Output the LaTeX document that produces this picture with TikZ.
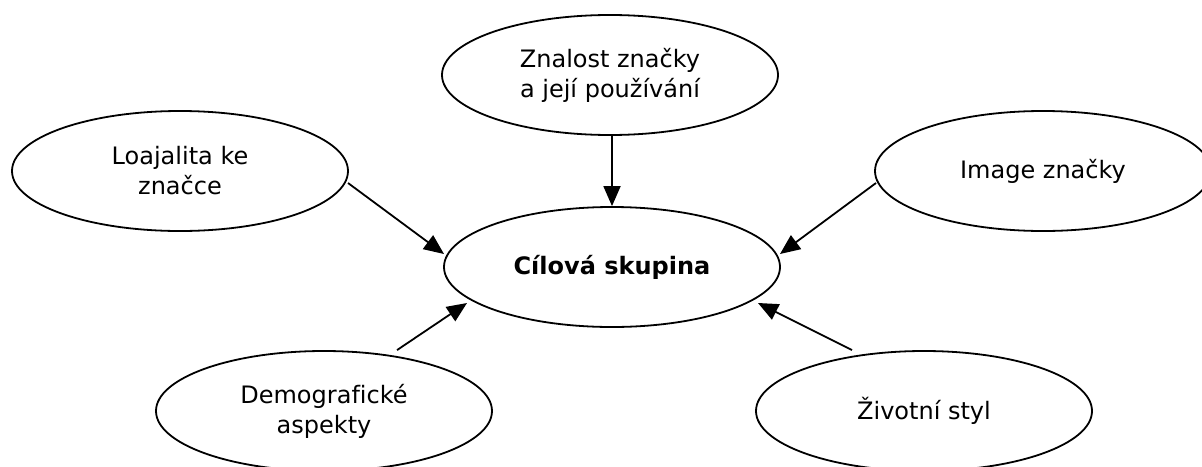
\documentclass[tikz,border=0pt]{standalone}
\usepackage{fontspec}
\setmainfont{DejaVu Sans}[Ligatures=NoCommon]
\usetikzlibrary{shapes.geometric,arrows.meta,calc}
\begin{document}
\begin{tikzpicture}[x=1pt,y=-1pt,
  oval/.style={draw=black,line width=1.8pt,ellipse,minimum width=336pt,minimum height=120pt,inner sep=0pt,align=center,font=\fontsize{24}{30}\selectfont},
  arr/.style={line width=1.8pt,-{Triangle[length=20pt,width=17pt]}}]
\useasboundingbox (0,0) rectangle (1202,466);
\clip (0,0) rectangle (1202,466);
\node[oval] (top) at (610,75) {Znalost značky\\a její používání};
\node[oval] (lft) at (180,171) {Loajalita ke\\značce};
\node[oval] (rgt) at (1043,171) {Image značky};
\node[oval,font=\fontsize{24}{30}\selectfont\bfseries] (ctr) at (612,267) {Cílová skupina};
\node[oval] (bl) at (324,411) {Demografické\\aspekty};
\node[oval] (br) at (924,411) {Životní styl};
\draw[arr] (ctr.north |- top.south) -- (ctr.north);
\draw[arr] ($(lft.center)+(168,12)$) -- ($(ctr.center)+(-168,-13)$);
\draw[arr] ($(rgt.center)+(-167,12)$) -- ($(ctr.center)+(168,-13)$);
\draw[arr] ([xshift=73pt]bl.north) -- ($(ctr.center)+(-145,36)$);
\draw[arr] ([xshift=-72pt]br.north) -- ($(ctr.center)+(146,36)$);
\end{tikzpicture}
\end{document}
